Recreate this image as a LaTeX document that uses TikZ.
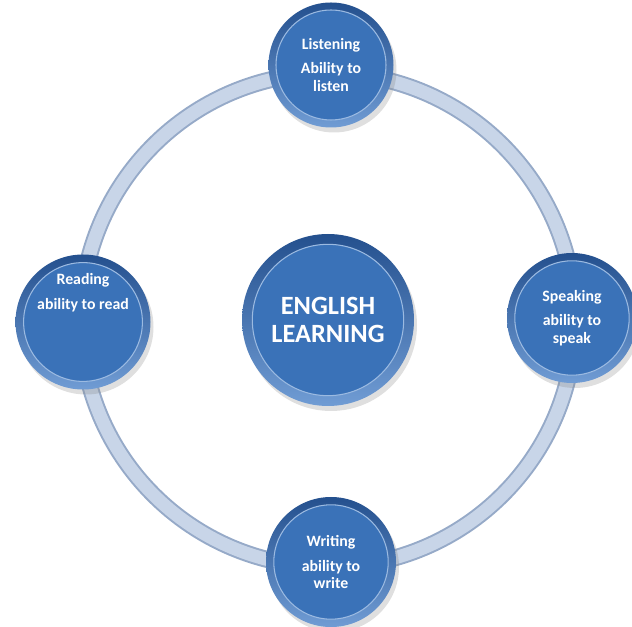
\documentclass[tikz,border=0pt]{standalone}
\usepackage{fontspec}
\setmainfont{Carlito}
\usetikzlibrary{calc,shadows}

\definecolor{ballblue}{RGB}{58,114,184}
\definecolor{balldark}{RGB}{36,80,142}
\definecolor{balllight}{RGB}{112,156,212}
\definecolor{ringblue}{RGB}{200,213,232}
\definecolor{ringedge}{RGB}{150,170,200}

\begin{document}
\begin{tikzpicture}
        [ball/.style={circle, inner sep=0pt, minimum size=2.6cm, text=white, align=center,
            font=\bfseries\fontsize{9}{10}\selectfont,
            top color=balldark, bottom color=balllight,
            drop shadow={opacity=0.25, shadow xshift=0.06cm, shadow yshift=-0.1cm},
            path picture={\fill[ballblue, draw=balllight!70!white, line width=0.6pt]
                let \p1=(path picture bounding box.north), \p2=(path picture bounding box.center)
                in (\p2) circle [radius={0.88*(\y1-\y2)}];}},
        bigball/.style={ball, minimum size=3.44cm, font=\bfseries\fontsize{15}{16}\selectfont},
        caption/.style={text=white, align=center, font=\bfseries\fontsize{9}{10}\selectfont},
        ring/.style={ringedge, line width=0.34cm},
        ringface/.style={ringblue, line width=0.26cm}]

        \useasboundingbox (0,0) rectangle (12.64,-12.54);

        % centre ball
        \node[bigball] (eng) at (6.56,-6.4) {ENGLISH\\LEARNING};

        % the ring round it
        \draw[ring] (eng.center) circle (4.94cm);
        \draw[ringface] (eng.center) circle (4.94cm);

        % the four skills
        \node[ball, minimum size=2.5cm] (listen) at (6.62,-1.3) {Listening\\[4pt]Ability to\\listen};
        \node[ball, minimum size=2.7cm] (read) at (1.66,-6.44) {};
        \node[caption] (readtext) at ([yshift=0.58cm]read.center) {Reading\\[4pt]ability to read};
        \node[ball] (speak) at (11.44,-6.36) {Speaking\\[4pt]ability to\\speak};
        \node[ball] (write) at (6.62,-11.24) {Writing\\[4pt]ability to\\write};

    \end{tikzpicture}
\end{document}
